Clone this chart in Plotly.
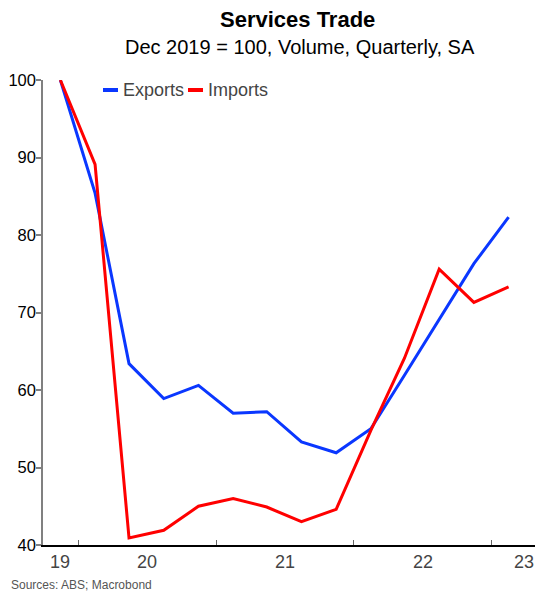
import plotly.graph_objects as go

# Quarterly observations (plotted at mid-quarter)
dates = ["2019-11-15", "2020-02-15", "2020-05-15", "2020-08-15", "2020-11-15",
         "2021-02-15", "2021-05-15", "2021-08-15", "2021-11-15", "2022-02-15",
         "2022-05-15", "2022-08-15", "2022-11-15", "2023-02-15"]
exports = [100, 85.4, 63.4, 58.9, 60.6, 57.0, 57.2, 53.3, 51.9, 55.0, 61.9, 69.1, 76.3, 82.3]
imports = [100, 89.1, 40.9, 41.9, 45.0, 46.0, 44.9, 43.0, 44.6, 54.8, 64.1, 75.6, 71.3, 73.3]

year_ticks = ["2020-01-01", "2021-01-01", "2022-01-01", "2023-01-01"]
year_labels = ["19", "20", "21", "22", "23"]
year_label_pos = ["2019-11-15", "2020-07-02", "2021-07-02", "2022-07-02", "2023-03-28"]
y_ticks = [40, 50, 60, 70, 80, 90, 100]

BLUE = "#0a37ff"
RED = "#ff0000"
FONT = "Liberation Sans, Arial, sans-serif"

W, H = 536, 592
L, T = 43, 80
B = H - 545
R = W - 535
pw, ph = W - L - R, H - T - B

def px(xs):
    return (xs - L) / pw

def py(ys):
    return (H - B - ys) / ph

fig = go.Figure()
fig.add_trace(go.Scatter(x=dates, y=exports, mode="lines", name="Exports",
                         line=dict(color=BLUE, width=3), cliponaxis=False))
fig.add_trace(go.Scatter(x=dates, y=imports, mode="lines", name="Imports",
                         line=dict(color=RED, width=3), cliponaxis=False))

annotations = [
    dict(text="<b>Services Trade</b>", x=px(297), y=py(20), xref="paper", yref="paper",
         showarrow=False, xanchor="center", yanchor="middle",
         font=dict(size=22, color="black", family=FONT)),
    dict(text="Dec 2019 = 100, Volume, Quarterly, SA", x=px(300), y=py(47),
         xref="paper", yref="paper", showarrow=False, xanchor="center", yanchor="middle",
         font=dict(size=20, color="black", family=FONT)),
    dict(text="Sources: ABS; Macrobond", x=px(9), y=py(585), xref="paper", yref="paper",
         showarrow=False, xanchor="left", yanchor="middle",
         font=dict(size=12, color="#555555", family=FONT)),
]
for lab, pos in zip(year_labels, year_label_pos):
    annotations.append(dict(text=lab, x=pos, y=py(562), xref="x", yref="paper",
                            showarrow=False, xanchor="center", yanchor="middle",
                            font=dict(size=18, color="#444444", family=FONT)))

# manual legend
legend_items = [("Exports", BLUE, 103, 118, 121), ("Imports", RED, 188, 203, 206)]
shapes = []
for name, col, x0, x1, xt in legend_items:
    shapes.append(dict(type="line", xref="paper", yref="paper", x0=px(x0), x1=px(x1),
                       y0=py(90), y1=py(90), line=dict(color=col, width=4)))
    annotations.append(dict(text=name, x=px(xt), y=py(90), xref="paper", yref="paper",
                            showarrow=False, xanchor="left", yanchor="middle",
                            font=dict(size=18, color="#444444", family=FONT)))

fig.update_layout(
    template="none",
    width=W, height=H,
    margin=dict(l=L, r=R, t=T, b=B, pad=0, autoexpand=False),
    paper_bgcolor="white", plot_bgcolor="white",
    showlegend=False,
    hovermode=False,
    font=dict(family=FONT),
    annotations=annotations,
    shapes=shapes,
    xaxis=dict(type="date", range=["2019-09-30", "2023-04-26"], automargin=False,
               tickvals=year_ticks, showticklabels=False,
               ticks="inside", ticklen=5, tickcolor="#666666", tickwidth=1,
               showline=True, linecolor="black", linewidth=1.5,
               showgrid=False, zeroline=False),
    yaxis=dict(range=[40, 100], tickvals=y_ticks, automargin=False,
               ticks="outside", ticklen=5, tickcolor="#808080", tickwidth=1.5,
               showline=True, linecolor="#808080", linewidth=1.5,
               showgrid=False, zeroline=False, ticklabelstandoff=-3,
               tickfont=dict(size=16.5, color="black", family=FONT)),
)

fig.write_html("out.html", config={"displayModeBar": False},
               post_script="document.body.style.margin='0';document.body.style.overflow='hidden';")
